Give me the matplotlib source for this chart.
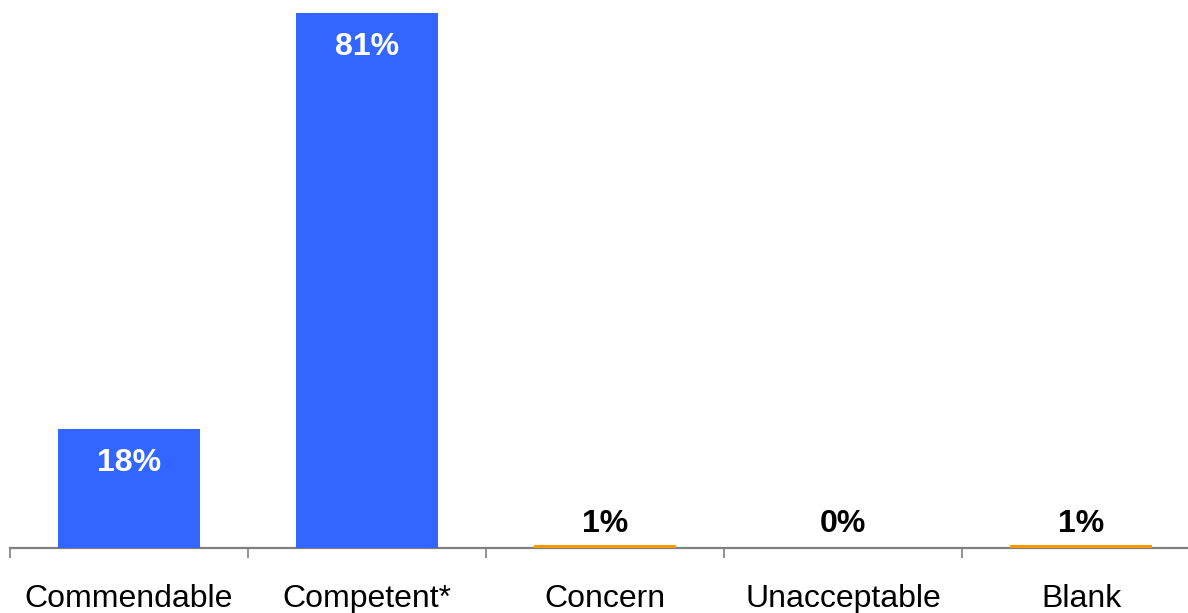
import matplotlib.pyplot as plt
import numpy as np

plt.rcParams['font.family'] = ['Liberation Sans', 'DejaVu Sans']

categories = ["Commendable", "Competent*", "Concern", "Unacceptable", "Blank"]
values = [18, 81, 0.45, 0, 0.45]
labels = ["18%", "81%", "1%", "0%", "1%"]
colors = ["#3366FF", "#3366FF", "#FF9900", "#FF9900", "#FF9900"]

fig = plt.figure(figsize=(11.88, 6.13), dpi=100)
ax = fig.add_axes([10 / 1188, 65 / 613, 1190 / 1188, 535 / 613])

x = np.arange(len(categories))
ax.bar(x, values, width=0.6, color=colors, zorder=2)

# labels: white inside the tall bars, black above the tiny ones
for xi, v, lab in zip(x, values, labels):
    if v > 5:
        ax.text(xi, v - 5.2, lab, ha="center", va="center", color="white",
                fontsize=23, fontweight="bold")
    else:
        ax.text(xi, 3.6, lab, ha="center", va="center", color="black",
                fontsize=23, fontweight="bold")

ax.set_xlim(-0.5, 4.5)
ax.set_ylim(0, 81)

for s in ["top", "right", "left"]:
    ax.spines[s].set_visible(False)
ax.spines["bottom"].set_color("#808080")
ax.spines["bottom"].set_linewidth(1.6)
ax.spines["bottom"].set_zorder(1)

ax.set_yticks([])
ax.set_xticks(x)
ax.set_xticklabels(categories, fontsize=23)
ax.set_xticks(np.arange(-0.5, 5, 1), minor=True)
ax.tick_params(axis="x", which="major", length=0, pad=26)
ax.tick_params(axis="x", which="minor", length=7, width=1.2, color="#808080")

fig.savefig("out.png", dpi=100)
